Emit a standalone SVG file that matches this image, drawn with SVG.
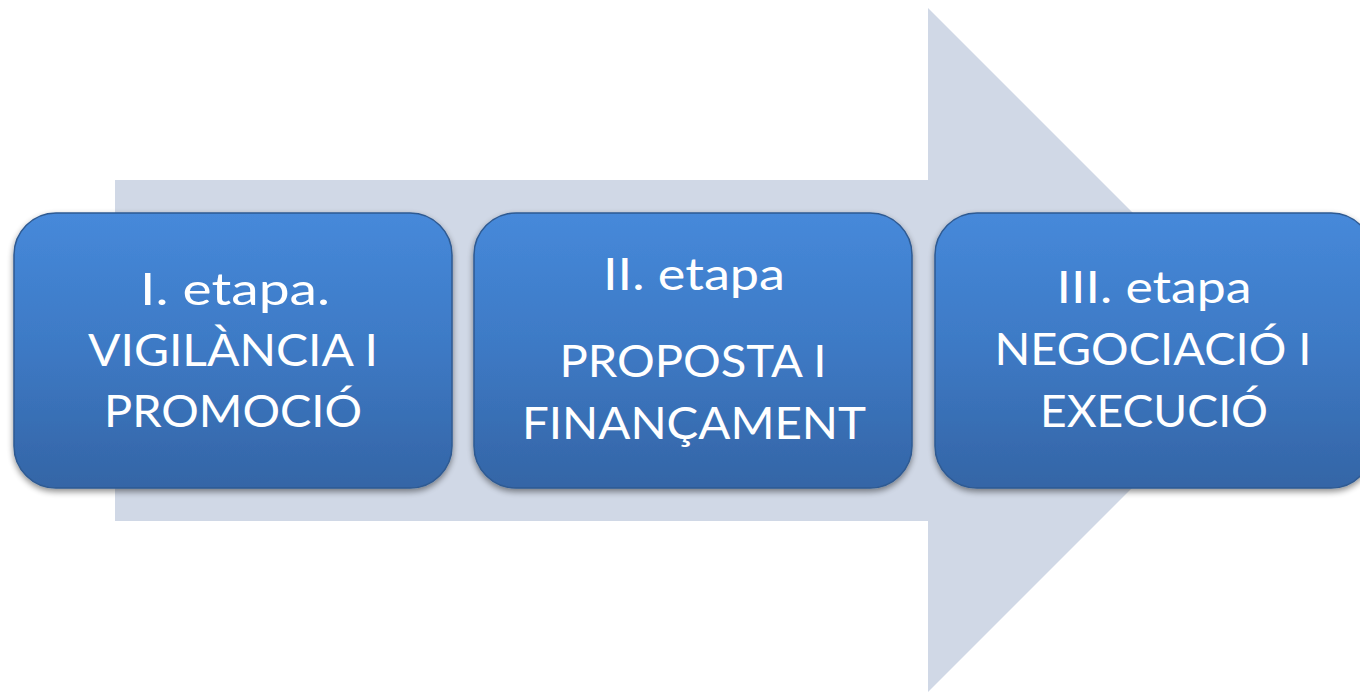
<svg xmlns="http://www.w3.org/2000/svg" width="1360" height="694" viewBox="0 0 1360 694">
<defs>
<linearGradient id="boxg" x1="0" y1="0" x2="0" y2="1">
<stop offset="0" stop-color="#4689DA"/>
<stop offset="0.5" stop-color="#3D79C4"/>
<stop offset="1" stop-color="#3465A6"/>
</linearGradient>
<filter id="sh" x="-10%" y="-10%" width="120%" height="130%">
<feGaussianBlur in="SourceAlpha" stdDeviation="3"/>
<feOffset dx="0" dy="3" result="b"/>
<feComponentTransfer><feFuncA type="linear" slope="0.45"/></feComponentTransfer>
<feMerge><feMergeNode/><feMergeNode in="SourceGraphic"/></feMerge>
</filter>
</defs>
<style>
.box{fill:url(#boxg);stroke:#2E5A92;stroke-width:1.5;filter:url(#sh)}
.t{font-family:Lato,"Open Sans",sans-serif;font-size:44px;fill:#FFFFFF;text-anchor:middle}
</style>
<rect width="1360" height="694" fill="#FFFFFF"/>
<g id="arrow">
<polygon points="115,180 928,180 928,8 1270,350 928,692 928,521 115,521" fill="#D0D8E6"/>
</g>
<g id="connectors"></g>
<g id="node1">
<rect class="box" x="14" y="213" width="438" height="275" rx="42"/>
<text class="t" x="235" y="305" textLength="190" lengthAdjust="spacingAndGlyphs">I. etapa.</text>
<text class="t" x="233" y="366" textLength="290" lengthAdjust="spacingAndGlyphs">VIGILÀNCIA I</text>
<text class="t" x="233" y="427" textLength="258" lengthAdjust="spacingAndGlyphs">PROMOCIÓ</text>
</g>
<g id="node2">
<rect class="box" x="474" y="213" width="438" height="275" rx="42"/>
<text class="t" x="694" y="290" textLength="182" lengthAdjust="spacingAndGlyphs">II. etapa</text>
<text class="t" x="693" y="377" textLength="267" lengthAdjust="spacingAndGlyphs">PROPOSTA I</text>
<text class="t" x="694" y="439" textLength="344" lengthAdjust="spacingAndGlyphs">FINANÇAMENT</text>
</g>
<g id="node3">
<rect class="box" x="935" y="213" width="438" height="275" rx="42"/>
<text class="t" x="1154" y="303" textLength="195" lengthAdjust="spacingAndGlyphs">III. etapa</text>
<text class="t" x="1153" y="365" textLength="317" lengthAdjust="spacingAndGlyphs">NEGOCIACIÓ I</text>
<text class="t" x="1154" y="427" textLength="228" lengthAdjust="spacingAndGlyphs">EXECUCIÓ</text>
</g>
</svg>
